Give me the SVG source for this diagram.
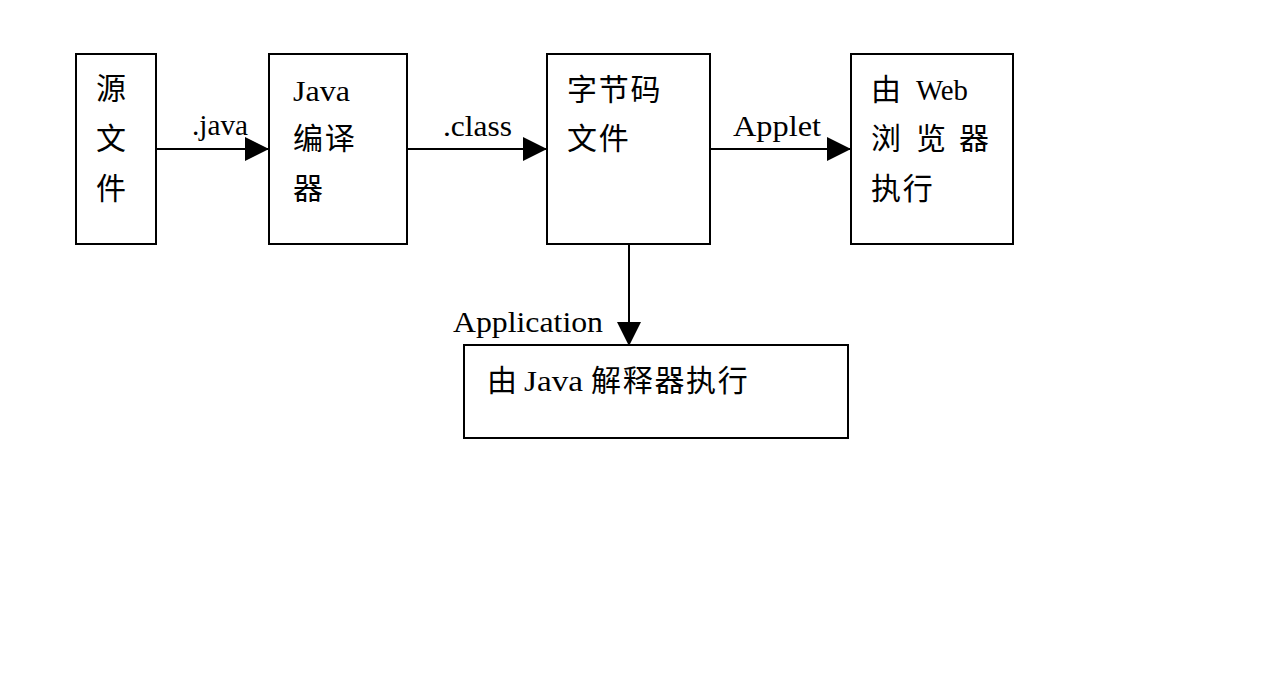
<svg xmlns="http://www.w3.org/2000/svg" width="1275" height="700" viewBox="0 0 1275 700">
<style>
.box{fill:#fff;stroke:#000;stroke-width:2}
.ln{stroke:#000;stroke-width:2;fill:none}
.cjk{font-family:"Noto Sans CJK SC","Liberation Sans",sans-serif;font-size:30px;letter-spacing:1.7px;fill:#000}
.lat{font-family:"Liberation Serif",serif;font-size:29px;fill:#000}
</style>
<defs>
<marker id="ah" markerUnits="userSpaceOnUse" markerWidth="24" markerHeight="26" refX="23" refY="12" orient="auto">
<polygon points="0,0 24,12 0,24" fill="#000"/>
</marker>
</defs>
<rect width="1275" height="700" fill="#fff"/>
<g id="connectors">
<line class="ln" x1="156" y1="149" x2="268" y2="149" marker-end="url(#ah)"/>
<line class="ln" x1="407" y1="149" x2="546" y2="149" marker-end="url(#ah)"/>
<line class="ln" x1="710" y1="149" x2="850" y2="149" marker-end="url(#ah)"/>
<line class="ln" x1="629" y1="244" x2="629" y2="345" marker-end="url(#ah)"/>
<text class="lat" x="192" y="135" textLength="56" lengthAdjust="spacingAndGlyphs">.java</text>
<text class="lat" x="443" y="136" textLength="69" lengthAdjust="spacingAndGlyphs">.class</text>
<text class="lat" x="733" y="136" textLength="88" lengthAdjust="spacingAndGlyphs">Applet</text>
<text class="lat" x="453" y="332" textLength="150" lengthAdjust="spacingAndGlyphs">Application</text>
</g>
<g id="source">
<rect class="box" x="76" y="54" width="80" height="190"/>
<text class="cjk" x="96" y="99">源</text>
<text class="cjk" x="96" y="149">文</text>
<text class="cjk" x="96" y="199">件</text>
</g>
<g id="compiler">
<rect class="box" x="269" y="54" width="138" height="190"/>
<text class="lat" x="293" y="101" textLength="57" lengthAdjust="spacingAndGlyphs">Java</text>
<text class="cjk" x="293" y="149">编译</text>
<text class="cjk" x="293" y="199">器</text>
</g>
<g id="bytecode">
<rect class="box" x="547" y="54" width="163" height="190"/>
<text class="cjk" x="567" y="100">字节码</text>
<text class="cjk" x="567" y="149">文件</text>
</g>
<g id="browser">
<rect class="box" x="851" y="54" width="162" height="190"/>
<text class="cjk" x="871" y="100">由</text>
<text class="lat" x="916" y="100" textLength="52" lengthAdjust="spacingAndGlyphs">Web</text>
<text class="cjk" x="871" y="149">浏</text>
<text class="cjk" x="916" y="149">览</text>
<text class="cjk" x="959" y="149">器</text>
<text class="cjk" x="871" y="199">执行</text>
</g>
<g id="interpreter">
<rect class="box" x="464" y="345" width="384" height="93"/>
<text class="cjk" x="487" y="391">由</text>
<text class="lat" x="524" y="391" textLength="59" lengthAdjust="spacingAndGlyphs">Java</text>
<text class="cjk" x="591" y="391">解释器执行</text>
</g>
</svg>
